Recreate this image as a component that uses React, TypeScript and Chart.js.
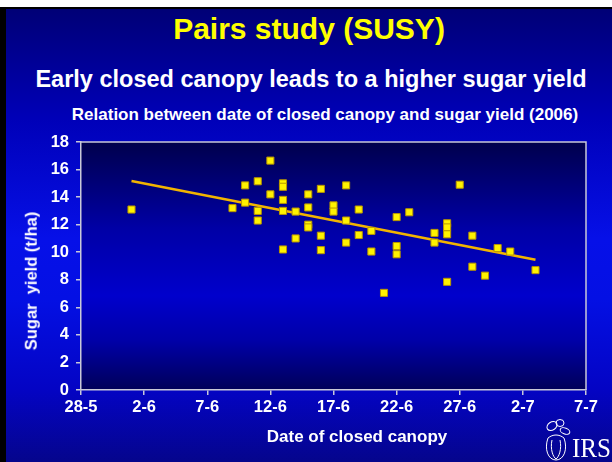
import React, { useEffect, useRef } from "react";
import { Chart, registerables } from "chart.js";

Chart.register(...registerables);

// ---- Data ----
const TITLE = "Pairs study (SUSY)";
const SUBTITLE = "Early closed canopy leads to a higher sugar yield";
const CHART_TITLE = "Relation between date of closed canopy and sugar yield (2006)";
const X_AXIS_TITLE = "Date of closed canopy";
const Y_AXIS_TITLE = "Sugar  yield (t/ha)";

const X_TICK_LABELS = ["28-5", "2-6", "7-6", "12-6", "17-6", "22-6", "27-6", "2-7", "7-7"];
const Y_MIN = 0;
const Y_MAX = 18;
const Y_STEP = 2;

const POINT_DATES = [
  "1-6",
  "9-6",
  "10-6", "10-6",
  "11-6", "11-6", "11-6",
  "12-6", "12-6",
  "13-6", "13-6", "13-6", "13-6", "13-6",
  "14-6", "14-6",
  "15-6", "15-6", "15-6", "15-6",
  "16-6", "16-6", "16-6",
  "17-6", "17-6",
  "18-6", "18-6", "18-6",
  "19-6", "19-6",
  "20-6", "20-6",
  "21-6",
  "22-6", "22-6", "22-6",
  "23-6",
  "25-6", "25-6",
  "26-6", "26-6", "26-6", "26-6",
  "27-6",
  "28-6", "28-6",
  "29-6",
  "30-6",
  "1-7",
  "3-7",
];
const POINT_YIELDS = [
  13.1,
  13.2,
  14.85, 13.6,
  15.15, 13.0, 12.3,
  16.65, 14.2,
  15.0, 14.75, 13.8, 13.0, 10.2,
  12.95, 11.0,
  14.2, 13.25, 12.0, 11.8,
  14.6, 11.2, 10.15,
  13.4, 12.95,
  14.85, 12.3, 10.7,
  13.1, 11.25,
  11.55, 10.05,
  7.05,
  12.55, 10.45, 9.85,
  12.9,
  11.4, 10.7,
  12.1, 11.8, 11.3, 7.85,
  14.9,
  11.2, 8.95,
  8.3,
  10.3,
  10.05,
  8.7,
];

const TREND_DATES = ["1-6", "3-7"];
const TREND_YIELDS = [15.17, 9.46];

// date label "d-m" -> days after the first tick label (28-5)
function dayOffset(label: string): number {
  const [d, m] = label.split("-").map(Number);
  const [d0, m0] = X_TICK_LABELS[0].split("-").map(Number);
  const start = Date.UTC(2006, m0 - 1, d0);
  return Math.round((Date.UTC(2006, m - 1, d) - start) / 86400000);
}

const FONT = "'Liberation Sans', Arial, Helvetica, sans-serif";

const plotBackground = {
  id: "plotBackground",
  beforeDraw(chart: any) {
    const { ctx, chartArea } = chart;
    if (!chartArea) return;
    const { left, top, right, bottom } = chartArea;
    const g = ctx.createLinearGradient(0, top, 0, bottom);
    g.addColorStop(0, "#00004c");
    g.addColorStop(0.35, "#0000a6");
    g.addColorStop(0.62, "#0000cc");
    g.addColorStop(0.8, "#0000a8");
    g.addColorStop(1, "#000058");
    ctx.save();
    ctx.fillStyle = g;
    ctx.fillRect(left, top, right - left, bottom - top);
    ctx.restore();
  },
  beforeDatasetsDraw(chart: any) {
    const { ctx, chartArea } = chart;
    const { left, top, right, bottom } = chartArea;
    ctx.save();
    ctx.strokeStyle = "#c8c8d8";
    ctx.lineWidth = 1.5;
    ctx.beginPath();
    ctx.moveTo(left, top);
    ctx.lineTo(right, top);
    ctx.lineTo(right, bottom);
    ctx.stroke();
    ctx.restore();
  },
};

function IrsLogo() {
  return (
    <svg
      width={72}
      height={47}
      viewBox="540 415 72 47"
      style={{ position: "absolute", left: 540, top: 415 }}
    >
      <g fill="none" stroke="#ffffff" strokeWidth={1}>
        <ellipse cx={552} cy={426} rx={5.5} ry={4} transform="rotate(-35 552 426)" />
        <ellipse cx={560} cy={423} rx={4} ry={3.5} />
        <ellipse cx={565} cy={431} rx={5} ry={3} transform="rotate(20 565 431)" />
        <path d="M548,438 C544,449 548,460 556,460 C564,460 568,449 564,438" />
        <path d="M552,440 C550,449 553,457 556,459" />
        <path d="M560,440 C562,449 559,457 556,459" />
        <path d="M548,438 C553,434 559,434 564,438" />
      </g>
      <text
        x={572}
        y={457}
        fill="#ffffff"
        fontFamily="'Liberation Serif', 'Times New Roman', serif"
        fontSize={27}
        textLength={39}
        lengthAdjust="spacingAndGlyphs"
      >
        IRS
      </text>
    </svg>
  );
}

export default function App() {
  const canvasRef = useRef<HTMLCanvasElement | null>(null);

  useEffect(() => {
    const canvas = canvasRef.current;
    if (!canvas) return;

    const points = POINT_DATES.map((d, i) => ({ x: dayOffset(d), y: POINT_YIELDS[i] }));
    const trend = TREND_DATES.map((d, i) => ({ x: dayOffset(d), y: TREND_YIELDS[i] }));
    const xTickValues = X_TICK_LABELS.map((l) => dayOffset(l));

    const chart = new Chart(canvas, {
      type: "scatter",
      data: {
        datasets: [
          {
            label: "Pairs",
            data: points,
            pointStyle: "rect",
            pointRadius: 5,
            backgroundColor: "#fff200",
            borderColor: "#b89600",
            borderWidth: 1,
            order: 0,
          } as any,
          {
            label: "Trend",
            type: "line",
            data: trend,
            showLine: true,
            borderColor: "#f2b400",
            borderWidth: 2.5,
            pointRadius: 0,
            fill: false,
            order: 1,
          } as any,
        ],
      },
      options: {
        responsive: false,
        animation: false,
        devicePixelRatio: 1,
        layout: { padding: { top: 142, right: 26, left: 0, bottom: 0 } },
        plugins: {
          legend: { display: false },
          tooltip: { enabled: false },
        },
        scales: {
          x: {
            type: "linear",
            min: xTickValues[0],
            max: xTickValues[xTickValues.length - 1],
            afterBuildTicks: (scale: any) => {
              scale.ticks = xTickValues.map((v) => ({ value: v }));
            },
            afterFit: (scale: any) => {
              scale.height = 72;
            },
            ticks: {
              color: "#ffffff",
              font: { family: FONT, size: 16.5, weight: "bold" },
              padding: 3,
              maxRotation: 0,
              autoSkip: false,
              callback: (value: any) => {
                const idx = xTickValues.indexOf(Number(value));
                return idx >= 0 ? X_TICK_LABELS[idx] : "";
              },
            },
            grid: {
              drawOnChartArea: false,
              color: "#c8c8d8",
              tickLength: 5,
              lineWidth: 1.5,
            },
            border: { color: "#c8c8d8", width: 1.5 },
          },
          y: {
            type: "linear",
            min: Y_MIN,
            max: Y_MAX,
            afterFit: (scale: any) => {
              scale.width = 81;
            },
            ticks: {
              stepSize: Y_STEP,
              color: "#ffffff",
              font: { family: FONT, size: 16.5, weight: "bold" },
              padding: 7,
            },
            grid: {
              drawOnChartArea: false,
              color: "#c8c8d8",
              tickLength: 5,
              lineWidth: 1.5,
            },
            border: { color: "#c8c8d8", width: 1.5 },
          },
        },
      },
      plugins: [plotBackground],
    } as any);

    return () => chart.destroy();
  }, []);

  const textBase: React.CSSProperties = {
    position: "absolute",
    whiteSpace: "pre",
    fontFamily: FONT,
    fontWeight: "bold",
    lineHeight: 1,
    transform: "translateX(-50%)",
  };

  return (
    <div
      style={{
        position: "fixed",
        left: 0,
        top: 0,
        width: 612,
        height: 462,
        background: "#ffffff",
        overflow: "hidden",
      }}
    >
      <div
        style={{
          position: "absolute",
          left: 0,
          top: 7,
          width: 612,
          height: 455,
          background: "#000000",
        }}
      />
      <div
        style={{
          position: "absolute",
          left: 6,
          top: 9,
          width: 606,
          height: 453,
          background:
            "linear-gradient(to bottom, #000076 0px, #0000b8 110px, #0610e8 230px, #0410e4 290px, #0404c4 380px, #05058c 453px)",
        }}
      />
      <div style={{ ...textBase, left: 309, top: 14, fontSize: 30, color: "#ffff00" }}>{TITLE}</div>
      <div style={{ ...textBase, left: 311, top: 68.4, fontSize: 23.5, color: "#ffffff" }}>{SUBTITLE}</div>
      <div style={{ ...textBase, left: 325, top: 106.3, fontSize: 17, color: "#ffffff" }}>{CHART_TITLE}</div>
      <canvas
        ref={canvasRef}
        width={612}
        height={462}
        style={{ position: "absolute", left: 0, top: 0, width: 612, height: 462 }}
      />
      <div style={{ ...textBase, left: 357, top: 428, fontSize: 17, color: "#ffffff" }}>{X_AXIS_TITLE}</div>
      <div
        style={{
          position: "absolute",
          left: 31,
          top: 281,
          whiteSpace: "pre",
          fontFamily: FONT,
          fontWeight: "bold",
          fontSize: 16.5,
          lineHeight: 1,
          color: "#ffffff",
          transform: "translate(-50%, -50%) rotate(-90deg)",
        }}
      >
        {Y_AXIS_TITLE}
      </div>
      <IrsLogo />
    </div>
  );
}
